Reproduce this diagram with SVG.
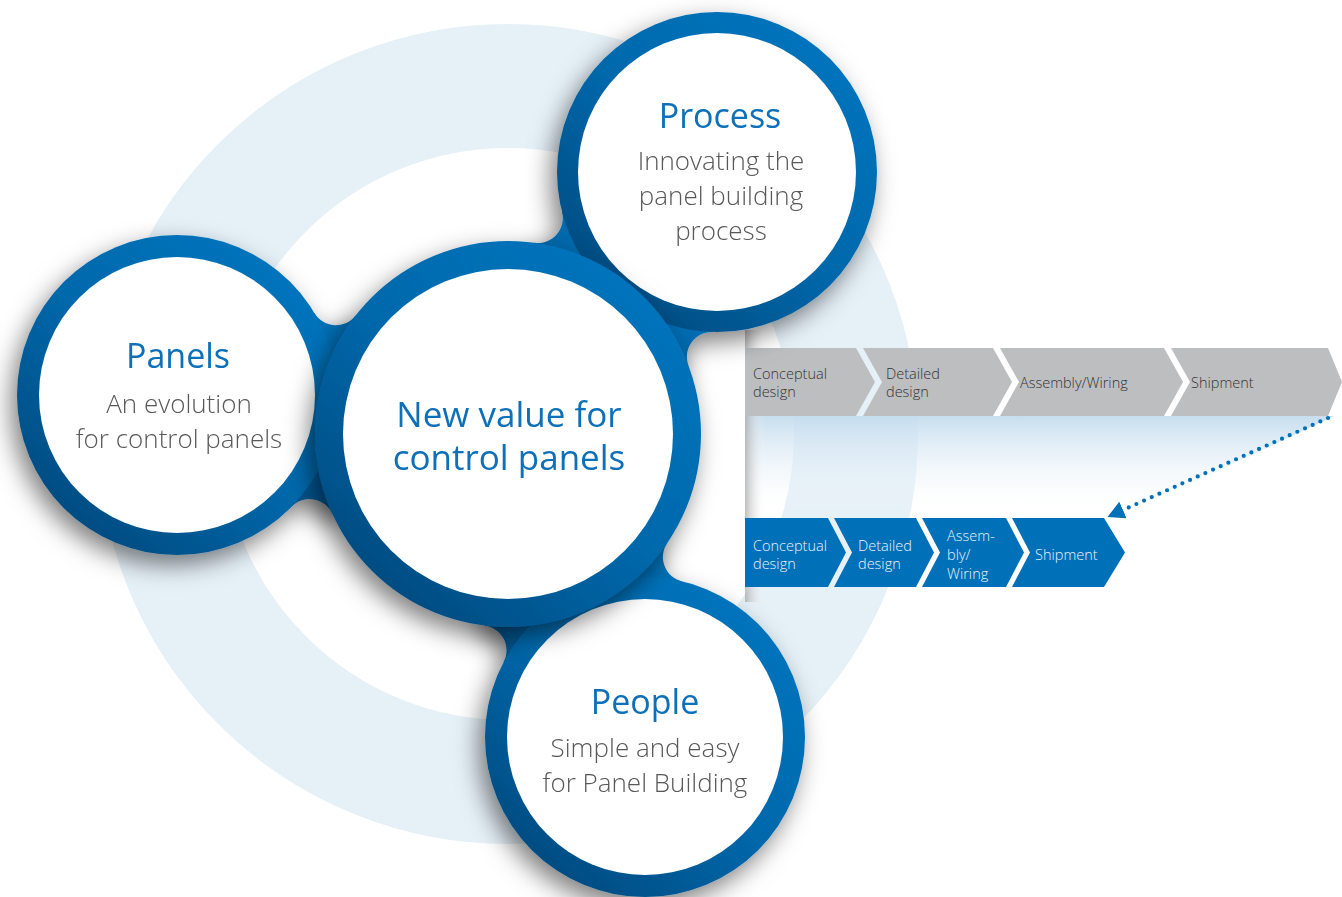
<svg xmlns="http://www.w3.org/2000/svg" width="1342" height="897" viewBox="0 0 1342 897">
<defs>
<style>
.ring{fill:url(#gb)}
.neck{fill:url(#gb)}
.inner{fill:#ffffff}
.title{font-family:"Open Sans","Noto Sans",sans-serif;font-size:34px;fill:#0a6fb8;text-anchor:middle}
.ctitle{font-family:"Open Sans","Noto Sans",sans-serif;font-size:35px;fill:#0a6fb8;text-anchor:middle}
.sub{font-family:"Open Sans","Noto Sans",sans-serif;font-size:26px;font-weight:300;fill:#585858;text-anchor:middle}
.gstep{fill:#bdbec0}
.bstep{fill:#0070b8}
.gtxt{font-family:"Open Sans","Noto Sans",sans-serif;font-size:14.5px;font-weight:300;fill:#333333}
.btxt{font-family:"Open Sans","Noto Sans",sans-serif;font-size:14.5px;font-weight:300;fill:#eaf3fa}
.dots{fill:none;stroke:#0070b8;stroke-width:4.2;stroke-linecap:round;stroke-dasharray:0 8.4}
</style>
<linearGradient id="gb" x1="0.85" y1="0.1" x2="0.15" y2="0.9">
<stop offset="0" stop-color="#0074bd"/>
<stop offset="0.5" stop-color="#0068ab"/>
<stop offset="1" stop-color="#004b80"/>
</linearGradient>
<linearGradient id="proj" x1="0" y1="0" x2="0" y2="1">
<stop offset="0" stop-color="#c4dcee" stop-opacity="0.95"/>
<stop offset="1" stop-color="#ffffff" stop-opacity="0"/>
</linearGradient>
<linearGradient id="edge" x1="0" y1="0" x2="1" y2="0">
<stop offset="0" stop-color="#a9a9a9" stop-opacity="0.75"/>
<stop offset="1" stop-color="#ffffff" stop-opacity="0"/>
</linearGradient>
<filter id="sh" x="-30%" y="-30%" width="160%" height="160%">
<feDropShadow dx="-6" dy="10" stdDeviation="12" flood-color="#000000" flood-opacity="0.5"/>
</filter>
<marker id="ah" markerUnits="userSpaceOnUse" markerWidth="18" markerHeight="20" refX="0" refY="9" orient="auto">
<path d="M0,0 L17,9 L0,18 Z" fill="#0070b8"/>
</marker>
</defs>
<rect width="1342" height="897" fill="#ffffff"/>
<g id="background">
<circle cx="508" cy="434" r="348" fill="none" stroke="#e5f0f7" stroke-width="124"/>
<polygon points="745,416 1334,416 1120,518 745,518" fill="url(#proj)"/>
<rect x="745" y="330" width="20" height="272" fill="url(#edge)"/>
</g>
<g id="steps-current">
<g id="gray-step-1"><path class="gstep" d="M745,348 L856,348 L875,382 L856,416 L745,416 Z"/><text class="gtxt" x="753" y="379">Conceptual</text><text class="gtxt" x="753" y="397">design</text></g>
<g id="gray-step-2"><path class="gstep" d="M863,348 L993,348 L1012,382 L993,416 L863,416 L882,382 Z"/><text class="gtxt" x="886" y="379">Detailed</text><text class="gtxt" x="886" y="397">design</text></g>
<g id="gray-step-3"><path class="gstep" d="M1000,348 L1164,348 L1183,382 L1164,416 L1000,416 L1019,382 Z"/><text class="gtxt" x="1020" y="388">Assembly/Wiring</text></g>
<g id="gray-step-4"><path class="gstep" d="M1171,348 L1328,348 L1342,382 L1328,416 L1171,416 L1190,382 Z"/><text class="gtxt" x="1191" y="388">Shipment</text></g>
</g>
<g id="steps-new">
<g id="blue-step-1"><path class="bstep" d="M745,518 L828,518 L846,552.5 L828,587 L745,587 Z"/><text class="btxt" x="753" y="551">Conceptual</text><text class="btxt" x="753" y="569">design</text></g>
<g id="blue-step-2"><path class="bstep" d="M834,518 L916,518 L934,552.5 L916,587 L834,587 L852,552.5 Z"/><text class="btxt" x="858" y="551">Detailed</text><text class="btxt" x="858" y="569">design</text></g>
<g id="blue-step-3"><path class="bstep" d="M922,518 L1006,518 L1024,552.5 L1006,587 L922,587 L940,552.5 Z"/><text class="btxt" x="947" y="541">Assem-</text><text class="btxt" x="947" y="560">bly/</text><text class="btxt" x="947" y="579">Wiring</text></g>
<g id="blue-step-4"><path class="bstep" d="M1012,518 L1104,518 L1125,552.5 L1104,587 L1012,587 L1030,552.5 Z"/><text class="btxt" x="1035" y="560">Shipment</text></g>
</g>
<g id="connectors">
<path class="dots" d="M1328,418 L1123,510" marker-end="url(#ah)"/>
</g>
<g id="satellites" filter="url(#sh)">
<g id="necks">
<path class="neck" d="M508,434 L355.6,315.6 A25,25 0 0 1 314.4,313.0 L177,395 L291.6,506.6 A25,25 0 0 1 332.3,513.8 Z"/>
<path class="neck" d="M508,434 L688.5,365.8 A25,25 0 0 1 712.6,331.9 L717,172 L562.0,211.8 A25,25 0 0 1 534.4,242.8 Z"/>
<path class="neck" d="M508,434 L484.6,625.6 A25,25 0 0 1 503.6,662.1 L645,737 L682.2,581.4 A25,25 0 0 1 667.3,542.9 Z"/>
</g>
<g id="node-panels">
<circle class="ring" cx="177" cy="395" r="160"/>
<circle class="inner" cx="177" cy="395" r="138"/>
<text class="title" x="178" y="368">Panels</text>
<text class="sub" x="179" y="413">An evolution</text>
<text class="sub" x="179" y="448">for control panels</text>
</g>
<g id="node-process">
<circle class="ring" cx="717" cy="172" r="160"/>
<circle class="inner" cx="717" cy="172" r="139"/>
<text class="title" x="720" y="128">Process</text>
<text class="sub" x="721" y="170">Innovating the</text>
<text class="sub" x="721" y="205">panel building</text>
<text class="sub" x="721" y="240">process</text>
</g>
<g id="node-people">
<circle class="ring" cx="645" cy="737" r="160"/>
<circle class="inner" cx="645" cy="737" r="138"/>
<text class="title" x="645" y="714">People</text>
<text class="sub" x="645" y="757">Simple and easy</text>
<text class="sub" x="645" y="792">for Panel Building</text>
</g>
</g>
<g id="node-center" filter="url(#sh)">
<circle class="ring" cx="508" cy="434" r="193"/>
<circle class="inner" cx="508" cy="434" r="165"/>
<text class="ctitle" x="509" y="427">New value for</text>
<text class="ctitle" x="509" y="470">control panels</text>
</g>
</svg>
